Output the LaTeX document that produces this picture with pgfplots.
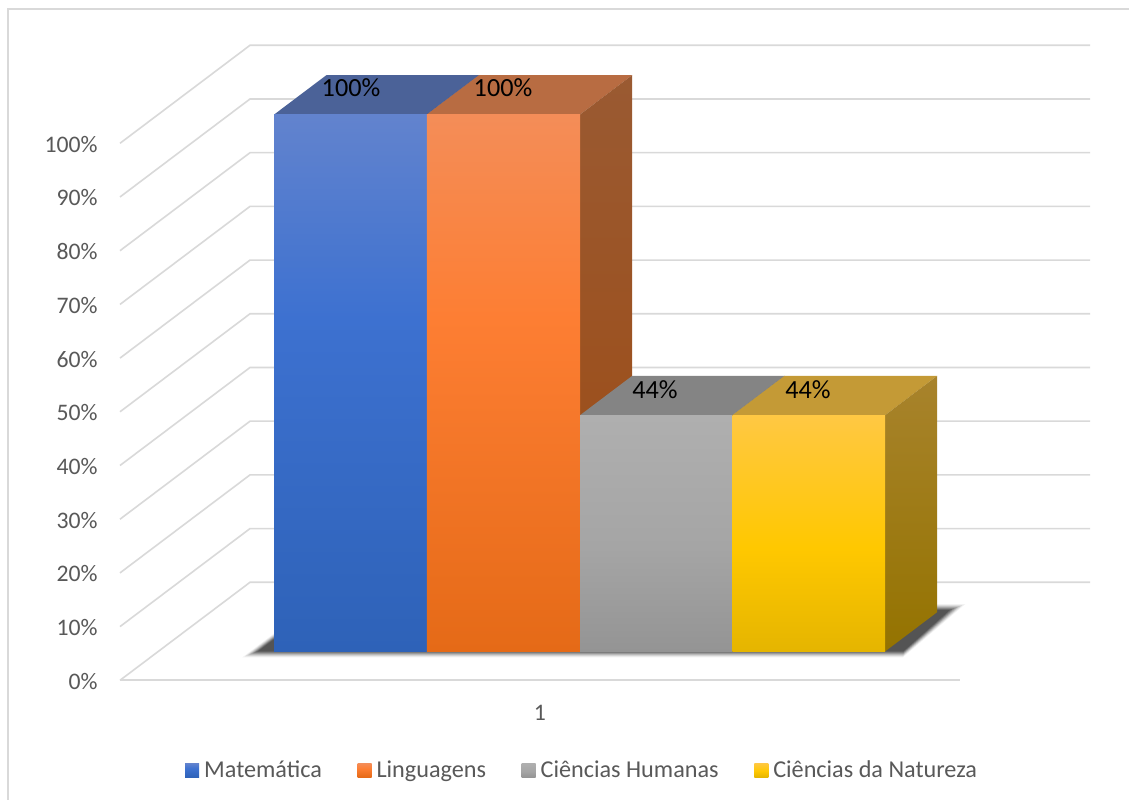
\documentclass[border=0pt]{standalone}
\usepackage{pgfplots}
\usepackage{fontspec}
\setmainfont{Carlito}
\pgfplotsset{compat=1.18}

% Surface colours of the four columns
\definecolor{blueT}{HTML}{6283CE}\definecolor{blueM}{HTML}{3D71D0}\definecolor{blueB}{HTML}{2E62B8}
\definecolor{blueTop}{HTML}{4B6298}\definecolor{blueS}{HTML}{2A4A86}
\definecolor{orgT}{HTML}{F48D58}\definecolor{orgM}{HTML}{FD7E33}\definecolor{orgB}{HTML}{E56A17}
\definecolor{orgTop}{HTML}{B86C42}\definecolor{orgST}{HTML}{9A5A32}\definecolor{orgSB}{HTML}{9E4A10}
\definecolor{grayT}{HTML}{AFAFAF}\definecolor{grayM}{HTML}{A5A5A5}\definecolor{grayB}{HTML}{949494}
\definecolor{grayTop}{HTML}{848484}\definecolor{grayS}{HTML}{6A6A6A}
\definecolor{yelT}{HTML}{FFC843}\definecolor{yelM}{HTML}{FFC800}\definecolor{yelB}{HTML}{E5B500}
\definecolor{yelTop}{HTML}{C49A36}\definecolor{yelST}{HTML}{A8832C}\definecolor{yelSB}{HTML}{947300}
\definecolor{txt}{HTML}{595959}
\definecolor{gridc}{HTML}{D9D9D9}

% Front-face gradients; the 25bp..75bp band spans the height of a face
\pgfdeclareverticalshading{blueface}{100bp}{color(0bp)=(blueB); color(25bp)=(blueB); color(56bp)=(blueM); color(75bp)=(blueT); color(100bp)=(blueT)}
\pgfdeclareverticalshading{orangeface}{100bp}{color(0bp)=(orgB); color(25bp)=(orgB); color(56bp)=(orgM); color(75bp)=(orgT); color(100bp)=(orgT)}
\pgfdeclareverticalshading{grayface}{100bp}{color(0bp)=(grayB); color(25bp)=(grayB); color(47bp)=(grayM); color(75bp)=(grayT); color(100bp)=(grayT)}
\pgfdeclareverticalshading{yellowface}{100bp}{color(0bp)=(yelB); color(25bp)=(yelB); color(47bp)=(yelM); color(75bp)=(yelT); color(100bp)=(yelT)}

% Column footprint: front and back depth on the floor
\def\dA{0.294}
\def\dB{0.695}

% front face, side face and top face of one column: #1 left, #2 right, #3 value, #4 gradient, #5 side top, #6 side bottom, #7 top
\newcommand{\column}[7]{%
  \addplot3[draw=none, fill=#7, forget plot] coordinates {(#1,\dA,#3) (#2,\dA,#3) (#2,\dB,#3) (#1,\dB,#3) (#1,\dA,#3)};
  \addplot3[draw=none, top color=#5, bottom color=#6, forget plot] coordinates {(#2,\dA,#3) (#2,\dB,#3) (#2,\dB,0) (#2,\dA,0) (#2,\dA,#3)};
  \addplot3[draw=none, shade, shading=#4, forget plot] coordinates {(#1,\dA,0) (#2,\dA,0) (#2,\dA,#3) (#1,\dA,#3) (#1,\dA,0)};
}
% One layer of the floor shadow: #1 opacity, #2 front depth, #3 back depth, #4 left, #5 right at the front, #6 right at the back
\newcommand{\shadowlayer}[6]{%
  \addplot3[draw=none, fill=black!85, opacity=#1, forget plot] coordinates {(#4,#2,0) (#5,#2,0) (#6,#3,0) (#4,#3,0) (#4,#2,0)};
}

\begin{document}
\begin{tikzpicture}
  \path[use as bounding box, fill=white] (0bp,0bp) rectangle (1129bp,800bp);
  \draw[gridc, line width=1.8bp] (8bp,0bp) -- (8bp,791bp) -- (1129bp,791bp);

  % Percentage scale, category label and legend
  \begin{axis}[
    at={(120bp,119.7bp)}, anchor=south west,
    scale only axis, width=840bp, height=537bp,
    xmin=120, xmax=960, ymin=0, ymax=100,
    axis line style={draw=none}, major tick length=0pt,
    xtick={540}, xticklabels={1},
    ytick={0,10,...,100},
    yticklabel={\pgfmathprintnumber{\tick}\%},
    tick label style={font=\fontsize{23.7bp}{26bp}\selectfont, text=txt},
    /pgf/number format/assume math mode=true,
    yticklabel style={xshift=-19bp, yshift=-1bp},
    xticklabel style={yshift=-21bp},
    clip=false,
    legend image code/.code={\path[draw=none, #1] (0bp,-7bp) rectangle (14bp,7bp);},
    legend style={
      at={(0.0774,-0.1676)}, anchor=west, draw=none, fill=none,
      legend columns=-1, inner sep=0pt,
      font=\fontsize{24.2bp}{26bp}\selectfont, text=txt,
      /tikz/every odd column/.append style={column sep=3bp},
      /tikz/every even column/.append style={column sep=33.6bp},
    },
  ]
    \addlegendimage{shade, shading=blueface}
    \addlegendentry{Matemática}
    \addlegendimage{shade, shading=orangeface}
    \addlegendentry{Linguagens}
    \addlegendimage{shade, shading=grayface}
    \addlegendentry{Ciências Humanas}
    \addlegendimage{shade, shading=yellowface}
    \addlegendentry{Ciências da Natureza}
  \end{axis}

  % Oblique box holding the columns
  \begin{axis}[
    at={(120bp,119.7bp)}, anchor=origin,
    x={(1bp,0bp)}, y={(130bp,98bp)}, z={(0bp,5.37bp)},
    xmin=0, xmax=840, ymin=0, ymax=1, zmin=0, zmax=100,
    hide axis, clip=false, no marks,
  ]
    % Gridlines across the side wall and the back wall
    \pgfplotsinvokeforeach{0,10,...,100}{
      \addplot3[gridc, line width=1.6bp, forget plot] coordinates {(0,0,#1) (0,1,#1) (840,1,#1)};
    }
    % Front edge of the floor
    \addplot3[gridc, line width=1.6bp, forget plot] coordinates {(0,0,0) (840,0,0)};

    % Soft shadow on the floor, built from nested layers that darken inwards
    \shadowlayer{0.06}{0.2327}{0.7785}{92}{752.45}{744.1}
    \shadowlayer{0.10}{0.2429}{0.7683}{93.25}{751.2}{742.85}
    \shadowlayer{0.14}{0.2531}{0.7581}{94.5}{749.95}{741.6}
    \shadowlayer{0.18}{0.2633}{0.7479}{95.75}{748.7}{740.35}
    \shadowlayer{0.24}{0.2735}{0.7377}{97}{747.45}{739.1}
    \shadowlayer{0.30}{0.2837}{0.7275}{98.25}{746.2}{737.85}
    \shadowlayer{0.30}{0.2939}{0.7173}{99.5}{744.95}{736.6}

    \column{116}{268.6}{100}{blueface}{blueS}{blueS}{blueTop}
    \column{268.6}{421.8}{100}{orangeface}{orgST}{orgSB}{orgTop}
    \column{421.8}{574.2}{44}{grayface}{grayS}{grayS}{grayTop}
    \column{574.2}{726.8}{44}{yellowface}{yelST}{yelSB}{yelTop}

    % Value labels standing on the top faces
    \node[font=\fontsize{26.2bp}{28bp}\selectfont, text=black, yshift=27bp] at (axis cs:192.8,\dA,100) {100\%};
    \node[font=\fontsize{26.2bp}{28bp}\selectfont, text=black, yshift=27bp] at (axis cs:344.8,\dA,100) {100\%};
    \node[font=\fontsize{26.2bp}{28bp}\selectfont, text=black, yshift=26bp] at (axis cs:496.8,\dA,44) {44\%};
    \node[font=\fontsize{26.2bp}{28bp}\selectfont, text=black, yshift=26bp] at (axis cs:649.8,\dA,44) {44\%};
  \end{axis}
\end{tikzpicture}
\end{document}
